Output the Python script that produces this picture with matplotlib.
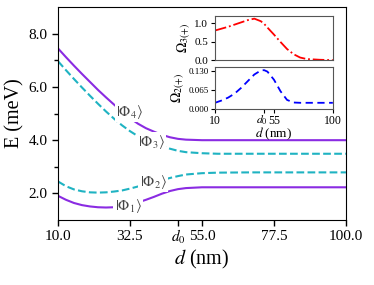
import numpy as np
import matplotlib
matplotlib.use('Agg')
import matplotlib.pyplot as plt
import matplotlib.transforms as mtransforms
from matplotlib.ticker import FixedLocator

plt.rcParams['font.family'] = ['Liberation Serif', 'DejaVu Serif']
plt.rcParams['mathtext.fontset'] = 'stix'

# energy levels vs well separation d (nm)
d = [10, 12.5, 15, 17.5, 20, 22.5, 25, 27.5, 30, 32.5, 35, 37.5, 40, 42.5,
     45, 47.5, 50, 55, 60, 70, 80, 90, 100]
phi4 = [7.45, 7.12, 6.80, 6.49, 6.19, 5.89, 5.61, 5.34, 5.08, 4.83, 4.62, 4.45,
        4.32, 4.20, 4.11, 4.05, 4.02, 4.00, 4.00, 4.00, 4.00, 4.00, 4.00]
phi3 = [6.97, 6.63, 6.30, 5.98, 5.67, 5.37, 5.08, 4.81, 4.56, 4.34, 4.15, 4.00,
        3.88, 3.78, 3.68, 3.60, 3.55, 3.51, 3.49, 3.49, 3.49, 3.49, 3.49]
phi2 = [2.45, 2.27, 2.15, 2.08, 2.04, 2.03, 2.04, 2.07, 2.11, 2.18, 2.26, 2.34,
        2.42, 2.50, 2.58, 2.65, 2.71, 2.76, 2.78, 2.79, 2.79, 2.79, 2.79]
phi1 = [1.91, 1.76, 1.64, 1.56, 1.51, 1.48, 1.47, 1.48, 1.51, 1.57, 1.66, 1.76,
        1.87, 1.99, 2.09, 2.16, 2.20, 2.23, 2.23, 2.23, 2.23, 2.23, 2.23]

# inset curves
d_in = [10, 15, 20, 25, 30, 35, 40, 45, 47.5, 50, 55, 60, 65, 70, 75, 80, 90, 100]
omega3 = [0.80, 0.85, 0.90, 0.96, 1.02, 1.08, 1.12, 1.05, 0.98, 0.88, 0.69,
          0.49, 0.30, 0.16, 0.07, 0.03, 0.01, 0.00]
omega2 = [0.020, 0.028, 0.038, 0.052, 0.072, 0.095, 0.118, 0.132, 0.133, 0.128,
          0.100, 0.060, 0.030, 0.021, 0.020, 0.020, 0.020, 0.020]

d0 = 47.5
purple = '#8a2be2'
cyan = '#1fb3c2'
orange = '#f5a623'

fig = plt.figure(figsize=(3.74, 2.85), dpi=100)
ax = fig.add_axes([0.155, 0.228, 0.77, 0.747])

ax.plot(d, phi4, color=purple, lw=1.5)
ax.plot(d, phi3, color=cyan, lw=1.5, ls='--')
ax.plot(d, phi2, color=cyan, lw=1.5, ls='--')
ax.plot(d, phi1, color=purple, lw=1.5)

box = dict(fc='white', ec='none', pad=0.8)
for (x, y, s) in [(32.4, 5.07, r'$|\Phi_4\rangle$'), (39.3, 3.92, r'$|\Phi_3\rangle$'),
                  (39.7, 2.43, r'$|\Phi_2\rangle$'), (31.9, 1.52, r'$|\Phi_1\rangle$')]:
    ax.text(x, y, s, fontsize=10.5, color='#444444', ha='center', va='center',
            bbox=box, zorder=5)

ax.set_xlim(10, 100)
ax.set_ylim(1, 9)
ax.set_xticks([10, 32.5, d0, 55, 77.5, 100])
ax.set_xticklabels(['10.0', '32.5', r'$d_0$', '55.0', '77.5', '100.0'])
ax.yaxis.set_major_locator(FixedLocator([2, 4, 6, 8]))
ax.set_yticklabels(['2.0', '4.0', '6.0', '8.0'])
ax.yaxis.set_minor_locator(FixedLocator([3, 5, 7]))
ax.tick_params(which='both', direction='out', labelsize=11, width=1)
ax.tick_params(which='major', length=4)
ax.tick_params(which='minor', length=3)
ax.xaxis.get_major_ticks()[2].tick1line.set_color(orange)
up = mtransforms.ScaledTranslation(0, 3 / 100, fig.dpi_scale_trans)
lbl0 = ax.get_xticklabels()[2]
lbl0.set_transform(lbl0.get_transform() + up)
ax.set_xlabel(r'$d$ (nm)', fontsize=14.5, labelpad=2)
ax.set_ylabel('E (meV)', fontsize=14.5, labelpad=3)

# inset: top panel
ax1 = fig.add_axes([0.575, 0.789, 0.315, 0.156])
ax1.plot(d_in, omega3, color='red', lw=1.3, ls='-.')
ax1.set_xlim(10, 100)
ax1.set_ylim(0, 1.2)
ax1.set_yticks([0.0, 0.5, 1.0])
ax1.set_yticklabels(['0.0', '0.5', '1.0'])
ax1.set_xticks([])
ax1.tick_params(axis='y', labelsize=8, length=3, pad=2)
ax1.set_ylabel(r'$\Omega_{3(+)}$', fontsize=10, labelpad=1)

# inset: bottom panel
ax2 = fig.add_axes([0.575, 0.618, 0.315, 0.148])
ax2.plot(d_in, omega2, color='blue', lw=1.3, dashes=(4, 2.5))
ax2.set_xlim(10, 100)
ax2.set_ylim(-0.001, 0.145)
ax2.set_yticks([0.0, 0.065, 0.13])
ax2.set_yticklabels(['0.000', '0.065', '0.130'])
ax2.set_xticks([10, d0, 55, 100])
ax2.set_xticklabels(['10', r'$d_0$', '55', '100'])
ax2.xaxis.get_major_ticks()[1].tick1line.set_color(orange)
ax2.tick_params(axis='y', labelsize=6.5, length=3, pad=1.5)
ax2.tick_params(axis='x', labelsize=8.5, length=3, pad=1.5)
shift = mtransforms.ScaledTranslation(-2 / 100, 2 / 100, fig.dpi_scale_trans)
lbl = ax2.get_xticklabels()[1]
lbl.set_transform(lbl.get_transform() + shift)
ax2.set_xlabel(r'$d$ (nm)', fontsize=9.5, labelpad=-1)
ax2.set_ylabel(r'$\Omega_{2(+)}$', fontsize=10, labelpad=1)

for a in (ax1, ax2):
    for sp in a.spines.values():
        sp.set_color('#555555')

fig.savefig('out.png', dpi=100)
